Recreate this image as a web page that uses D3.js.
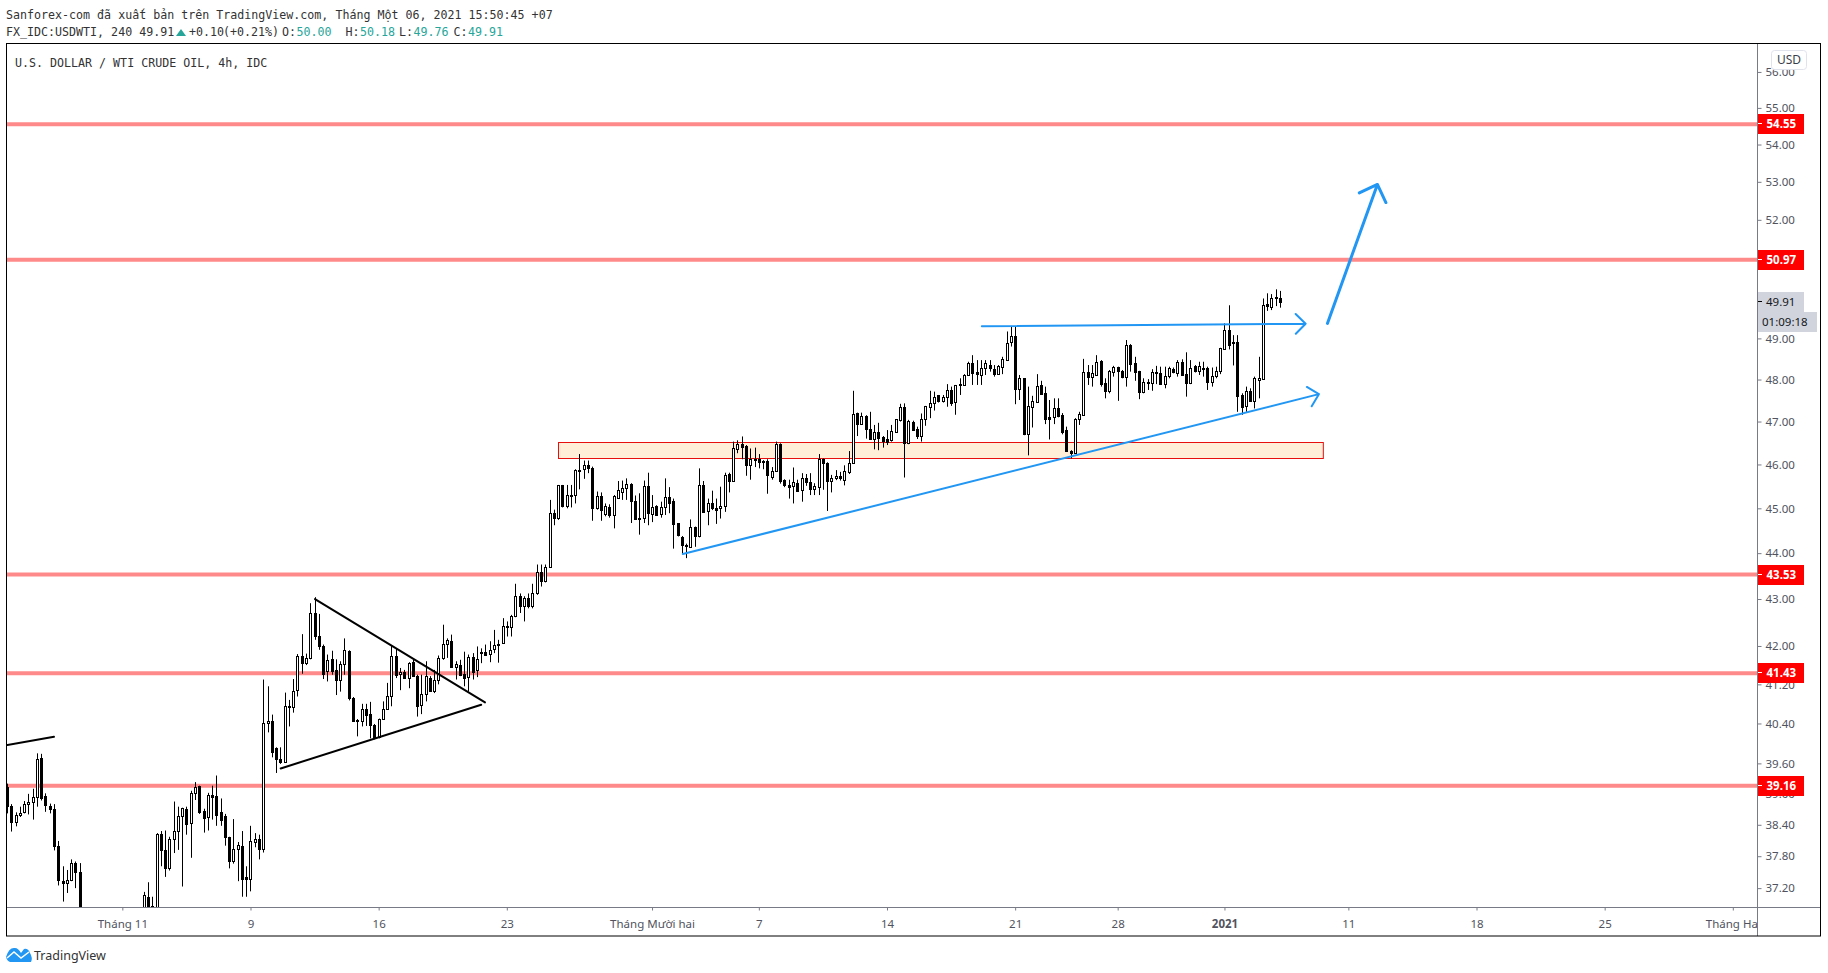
<!DOCTYPE html>
<html lang="en">
<head>
<meta charset="UTF-8">
<title>USDWTI 4h</title>
<script src="https://cdn.jsdelivr.net/npm/d3@7/dist/d3.min.js"></script>
<style>
  body { margin: 0; background: #fff; }
  svg { display: block; }
  .mono { font-family: "DejaVu Sans Mono", monospace; font-size: 11.65px; fill: #333; }
  .axis text { font-family: "Noto Sans", sans-serif; font-size: 11.5px; fill: #50535e; }
  .axis path, .axis line { stroke: #787b86; }
</style>
</head>
<body>
<svg></svg>
<script>
var opens = [
39.14,38.77,38.45,38.58,38.64,38.81,38.84,38.93,39.70,38.96,
38.77,38.71,38.00,37.33,37.29,37.36,37.67,37.50,null,null,
null,null,null,null,null,null,null,null,null,null,
null,null,36.80,37.03,36.87,36.80,38.23,37.91,37.58,38.13,
38.28,38.57,38.71,38.43,39.01,39.15,38.66,38.55,38.97,38.95,
38.64,38.56,38.16,37.70,37.93,37.99,37.40,37.38,38.07,38.12,
37.93,40.41,40.45,39.90,39.68,39.63,40.73,40.73,41.08,41.79,
41.65,41.74,42.70,42.21,42.01,41.47,41.72,41.49,41.28,41.63,
41.90,40.91,40.48,40.45,40.69,40.59,40.37,40.12,40.49,40.69,
40.96,41.80,41.41,41.46,41.34,41.66,41.38,40.77,41.00,41.34,
41.07,41.30,41.74,42.04,42.11,41.55,41.60,41.42,41.35,41.77,
41.49,41.85,41.88,41.83,41.93,42.02,42.06,42.41,42.40,42.63,
43.06,42.84,43.02,42.84,43.13,43.59,43.38,43.70,44.89,44.79,
45.52,45.05,45.28,45.31,45.85,45.89,45.98,45.91,45.01,45.27,
44.88,45.04,44.84,45.24,45.38,45.45,45.55,45.17,44.79,44.78,
45.50,44.88,45.06,44.88,45.04,45.25,45.17,44.66,44.35,44.18,
44.14,44.58,44.37,45.52,44.95,45.11,45.01,45.01,45.06,45.77,
45.63,46.36,46.47,46.43,45.98,46.10,46.13,46.07,46.08,45.72,
45.85,46.47,45.65,45.52,45.50,45.57,45.41,45.68,45.59,45.43,
45.48,46.12,46.04,45.63,45.68,45.73,45.65,45.83,46.04,47.20,
46.95,47.13,46.82,46.59,46.75,46.63,46.58,46.57,46.75,47.03,
47.34,46.50,46.99,46.82,46.66,47.05,47.35,47.44,47.62,47.49,
47.57,47.76,47.47,47.89,47.87,48.11,48.41,48.17,48.11,48.28,
48.36,48.25,48.13,48.31,48.47,48.90,49.06,47.78,48.03,46.71,
47.35,47.47,47.86,47.67,47.10,47.10,47.33,47.15,46.79,46.31,
46.26,47.05,47.16,48.17,48.05,48.12,48.44,47.91,47.73,48.19,
48.30,48.20,48.07,48.83,48.39,48.20,47.70,47.91,47.91,48.15,
48.15,47.89,48.08,48.25,48.15,48.42,48.13,47.91,48.33,48.21,
48.29,48.27,47.95,48.09,48.20,48.74,49.21,48.92,48.92,47.64,
47.37,47.73,47.49,48.00,48.01,49.84,49.77,50.00,50.00];

var highs = [
39.20,38.80,38.64,38.75,38.86,39.00,39.10,39.80,39.79,39.01,
38.81,38.80,38.09,37.61,37.54,37.74,37.70,37.67,null,null,
null,null,null,null,null,null,null,null,null,null,
null,null,37.13,37.31,37.04,38.24,38.28,38.29,38.17,38.85,
38.75,38.73,38.75,39.06,39.23,39.16,38.71,39.02,39.16,39.36,
38.91,38.61,38.17,38.51,38.07,38.28,37.61,38.38,38.24,38.21,
41.30,41.16,40.58,39.92,39.92,41.03,40.88,41.31,41.83,42.25,
41.84,42.91,43.04,42.68,42.03,41.82,41.90,41.72,41.68,42.16,
41.91,40.94,40.49,40.80,40.80,40.84,40.39,40.50,40.85,41.23,
42.00,41.95,41.54,41.50,41.66,41.71,41.40,41.40,41.68,41.37,
41.50,41.80,42.45,42.16,42.24,41.68,41.71,41.88,41.82,41.85,
41.99,41.95,42.03,42.10,42.34,42.13,42.59,42.52,42.66,43.33,
43.12,43.06,43.12,43.33,43.75,43.75,43.75,45.19,44.97,45.53,
45.53,45.53,45.53,45.89,46.24,46.09,46.09,45.95,45.38,45.36,
45.11,45.09,45.30,45.62,45.63,45.68,45.57,45.29,45.34,45.63,
45.81,45.30,45.07,45.15,45.68,45.48,45.22,44.67,44.38,44.21,
44.75,44.59,45.91,45.62,45.22,45.40,45.22,45.49,45.81,45.81,
46.53,46.56,46.65,46.45,46.37,46.39,46.24,46.10,46.12,45.94,
46.53,46.49,45.66,45.65,45.93,45.65,45.80,45.78,45.80,45.57,
46.24,46.14,46.05,45.76,45.87,45.83,45.98,46.31,47.73,47.21,
47.21,47.15,47.23,46.92,46.97,46.66,46.80,46.92,47.05,47.42,
47.43,47.04,47.02,46.88,47.19,47.37,47.73,47.71,47.63,47.63,
47.89,47.83,47.87,48.03,48.13,48.43,48.59,48.47,48.47,48.47,
48.47,48.35,48.35,48.55,49.17,49.29,49.29,48.11,48.03,47.83,
47.61,48.13,47.97,47.83,47.51,47.55,47.55,47.20,46.88,46.33,
47.08,47.23,48.50,48.35,48.35,48.59,48.47,48.03,48.23,48.33,
48.31,48.23,48.96,48.86,48.55,48.21,48.03,48.01,48.25,48.33,
48.31,48.31,48.31,48.29,48.47,48.49,48.66,48.47,48.35,48.43,
48.43,48.31,48.29,48.31,48.77,49.37,49.82,49.08,49.08,47.67,
47.83,47.79,48.07,48.55,49.99,50.12,50.10,50.22,50.18];

var lows = [
38.62,38.27,38.37,38.55,38.62,38.60,38.50,38.75,38.87,38.65,
38.62,37.91,37.25,36.95,37.11,37.33,37.20,36.50,null,null,
null,null,null,null,null,null,null,null,null,null,
null,null,36.70,36.70,36.60,36.70,37.61,37.41,37.53,37.86,
37.92,37.23,38.21,37.77,38.88,38.61,38.25,38.29,38.50,38.38,
38.38,38.00,37.57,37.66,37.33,37.04,37.04,37.14,37.97,37.74,
37.87,40.22,39.72,39.41,39.59,39.62,40.34,40.62,40.95,41.42,
41.60,41.72,42.13,41.92,41.31,41.26,41.40,40.98,41.05,41.40,
40.87,40.44,40.14,40.34,40.35,40.10,40.08,40.10,40.48,40.68,
40.75,41.33,41.08,41.32,41.12,41.37,40.54,40.59,40.85,41.05,
41.02,41.20,41.71,41.75,41.56,41.30,41.37,41.16,41.05,41.30,
41.35,41.64,41.79,41.66,41.85,41.65,42.05,42.20,42.20,42.61,
42.70,42.52,42.80,42.80,43.09,43.27,43.36,43.69,44.62,44.74,
45.02,45.00,45.02,45.11,45.43,45.67,45.80,44.72,44.97,44.72,
44.82,44.79,44.55,45.22,45.19,45.19,44.67,44.75,44.41,44.67,
44.62,44.69,44.85,44.79,44.85,44.89,44.10,44.37,43.98,43.89,
44.13,44.14,44.35,44.90,44.62,44.96,44.65,44.77,44.92,45.36,
45.61,46.26,46.12,45.74,45.65,45.94,45.91,45.89,45.33,45.65,
45.84,45.56,45.48,45.22,45.11,45.38,45.15,45.51,45.30,45.30,
45.30,45.42,44.94,45.36,45.64,45.63,45.52,45.78,46.03,46.66,
46.94,46.60,46.57,46.35,46.33,46.39,46.45,46.53,46.74,47.00,
45.70,46.47,46.78,46.59,46.53,46.90,47.08,47.26,47.45,47.45,
47.35,47.37,47.16,47.63,47.85,48.09,47.87,47.87,47.87,48.11,
48.19,48.07,48.11,48.13,48.45,48.80,47.41,47.51,46.68,46.21,
46.86,47.45,47.63,46.94,46.58,46.94,47.10,46.70,46.29,46.14,
46.25,46.92,47.14,47.87,47.83,48.11,47.83,47.55,47.67,48.07,
47.49,48.03,47.83,48.19,47.97,47.53,47.67,47.75,47.73,47.89,
47.87,47.79,48.03,48.15,48.07,48.09,47.59,47.89,48.17,48.11,
48.07,47.75,47.83,48.03,48.13,48.73,48.73,48.34,47.23,47.16,
47.23,47.47,47.31,47.55,48.01,49.68,49.70,49.80,49.76];

var closes = [
38.77,38.45,38.59,38.63,38.81,38.84,38.93,39.68,38.91,38.79,
38.71,38.00,37.36,37.29,37.35,37.67,37.50,36.60,null,null,
null,null,null,null,null,null,null,null,null,null,
null,null,37.07,36.80,36.70,38.23,37.91,37.57,38.12,38.28,
38.57,38.72,38.42,39.02,39.13,38.65,38.54,38.97,38.94,38.59,
38.50,38.16,37.70,37.93,38.01,37.37,37.37,38.08,38.12,37.93,
40.41,40.45,39.82,39.68,39.63,40.76,40.76,41.07,41.79,41.65,
41.74,42.70,42.21,42.01,41.41,41.70,41.48,41.28,41.62,41.91,
40.91,40.46,40.45,40.69,40.58,40.36,40.10,40.49,40.69,40.96,
41.79,41.40,41.46,41.34,41.65,41.38,40.76,41.00,41.37,41.07,
41.30,41.75,42.04,42.12,41.57,41.63,41.39,41.34,41.77,41.45,
41.72,41.88,41.82,41.91,42.03,42.05,42.42,42.43,42.64,43.06,
42.84,43.02,42.84,43.12,43.59,43.38,43.70,44.89,44.79,45.52,
45.05,45.31,45.31,45.87,45.87,45.98,45.91,45.01,45.27,44.97,
45.06,44.84,45.27,45.41,45.45,45.55,45.17,44.77,44.77,45.50,
44.89,45.04,44.86,45.04,45.25,45.13,44.65,44.40,44.18,44.15,
44.58,44.37,45.52,44.92,45.11,45.00,44.97,45.06,45.75,45.63,
46.37,46.47,46.41,45.99,46.12,46.13,46.05,46.05,45.75,45.85,
46.47,45.61,45.52,45.49,45.59,45.40,45.68,45.59,45.43,45.50,
46.12,46.03,45.63,45.69,45.73,45.68,45.84,46.03,47.18,46.95,
47.13,46.82,46.59,46.75,46.61,46.54,46.53,46.77,47.05,47.34,
46.50,47.02,46.80,46.66,47.05,47.36,47.45,47.57,47.49,47.57,
47.76,47.45,47.86,47.86,48.11,48.41,48.15,48.13,48.29,48.39,
48.27,48.13,48.32,48.49,48.88,49.06,47.78,48.03,46.70,47.36,
47.48,47.84,47.65,47.07,47.07,47.33,47.13,46.76,46.31,46.26,
47.06,47.17,48.17,48.05,48.15,48.43,47.90,47.73,48.20,48.30,
48.20,48.05,48.83,48.38,48.19,47.69,47.94,47.94,48.18,48.18,
47.89,48.08,48.27,48.17,48.42,48.12,47.91,48.29,48.21,48.32,
48.27,47.95,48.09,48.20,48.76,49.21,48.85,48.88,47.61,47.35,
47.72,47.49,48.04,48.03,49.82,49.80,50.00,50.02,49.91];

var priceTicks = [56,55,54,53,52,49,48,47,46,45,44,43,42,41.2,40.4,39.6,39,38.4,37.8,37.2];
var levels = [54.55,50.97,43.53,41.43,39.16];
var lastPrice = 49.91;

var timeTickBars = [27,57,87,117,151,176,206,236,260,285,314,344,374,404];
var timeTickLabels = ['Tháng 11','9','16','23','Tháng Mười hai','7','14','21','28','2021','11','18','25','Tháng Hai'];

// drawings, as [bar, price] pairs
var zoneBars = [129.06,308.1];
var zonePrices = [46.53,46.15];
var blackLines = [
	[[-0.25,39.96],[11,40.13]],
	[[72.1,43.0],[111.9,40.83]],
	[[64.07,39.5],[111,40.78]]
];
var blueArrows = [
	{from:[158.2,43.98], to:[307.1,47.65], width:2, head:14},
	{from:[228.2,49.3], to:[304,49.36], width:2, head:14},
	{from:[309.1,49.37], to:[320.8,52.93], width:3, head:20}
];

var width = 1828, height = 973;
var plot = {left:6, right:1757, top:44, bottom:907, frameRight:1821, frameBottom:936};

var svg = d3.select('svg').attr('width', width).attr('height', height);

var x = d3.scaleLinear().domain([0,298]).range([7,1280]);
var y = d3.scaleLog().domain([36.85,56.79]).range([plot.bottom,plot.top]);

svg.append('clipPath').attr('id','plotClip').append('rect')
	.attr('x',plot.left).attr('y',plot.top)
	.attr('width',plot.right-plot.left).attr('height',plot.bottom-plot.top);
svg.append('clipPath').attr('id','timeClip').append('rect')
	.attr('x',plot.left).attr('y',plot.bottom)
	.attr('width',plot.right-plot.left).attr('height',plot.frameBottom-plot.bottom);

var main = svg.append('g').attr('clip-path','url(#plotClip)');

// support zone
main.append('rect')
	.attr('x',Math.round(x(zoneBars[0]))+0.5)
	.attr('y',Math.round(y(zonePrices[0]))+0.5)
	.attr('width',x(zoneBars[1])-x(zoneBars[0]))
	.attr('height',Math.round(y(zonePrices[1])-y(zonePrices[0])))
	.attr('fill','#ffefd9')
	.attr('stroke','#e6100f');

// horizontal levels
main.selectAll('.level').data(levels).enter().append('line')
	.attr('class','level')
	.attr('x1',plot.left).attr('x2',plot.right)
	.attr('y1',function(d){return y(d);}).attr('y2',function(d){return y(d);})
	.attr('stroke','#ff8a8a').attr('stroke-width',4);

// candles
var bars = d3.range(opens.length).filter(function(i){return opens[i]!==null;});
var candle = main.selectAll('.candle').data(bars).enter().append('g').attr('class','candle');

candle.append('line')
	.attr('x1',function(i){return Math.round(x(i))+0.5;})
	.attr('x2',function(i){return Math.round(x(i))+0.5;})
	.attr('y1',function(i){return y(highs[i]);})
	.attr('y2',function(i){return y(lows[i]);})
	.attr('stroke','#000');

candle.append('rect')
	.attr('x',function(i){return Math.round(x(i))-0.5;})
	.attr('width',2)
	.attr('y',function(i){return Math.round(y(Math.max(opens[i],closes[i])))+0.5;})
	.attr('height',function(i){
		var t = Math.round(y(Math.max(opens[i],closes[i])));
		var b = Math.round(y(Math.min(opens[i],closes[i])));
		return Math.max(b-t,1);
	})
	.attr('fill',function(i){return closes[i]>=opens[i] ? '#fff' : '#000';})
	.attr('stroke','#000');

// trend lines
main.selectAll('.blackLine').data(blackLines).enter().append('line')
	.attr('class','blackLine')
	.attr('x1',function(d){return x(d[0][0]);})
	.attr('y1',function(d){return y(d[0][1]);})
	.attr('x2',function(d){return x(d[1][0]);})
	.attr('y2',function(d){return y(d[1][1]);})
	.attr('stroke','#000').attr('stroke-width',2).attr('stroke-linecap','round');

// arrows, head arms at 45 degrees from the shaft
blueArrows.forEach(function(a){
	var x0 = x(a.from[0]), y0 = y(a.from[1]);
	var x1 = x(a.to[0]), y1 = y(a.to[1]);
	var ang = Math.atan2(y1-y0,x1-x0);
	var d = 'M'+x0+','+y0+'L'+x1+','+y1;
	[-Math.PI/4,Math.PI/4].forEach(function(off){
		d += 'M'+x1+','+y1+'L'+(x1-a.head*Math.cos(ang+off))+','+(y1-a.head*Math.sin(ang+off));
	});
	main.append('path').attr('d',d)
		.attr('fill','none').attr('stroke','#2196f3')
		.attr('stroke-width',a.width).attr('stroke-linecap','round');
});

// axes
var timeAxis = svg.append('g').attr('clip-path','url(#timeClip)').append('g').attr('class','axis')
	.attr('transform','translate(0,'+(plot.bottom+0.5)+')')
	.call(d3.axisBottom(x).tickValues(timeTickBars).tickSizeOuter(0).tickSize(3)
		.tickFormat(function(d,i){return timeTickLabels[i];}));
timeAxis.select('.domain').remove();
timeAxis.selectAll('text').attr('dy',0).attr('y',20)
	.style('font-weight',function(d,i){return timeTickLabels[i]==='2021' ? 'bold' : 'normal';});
svg.append('line').attr('x1',plot.left).attr('x2',plot.frameRight)
	.attr('y1',plot.bottom+0.5).attr('y2',plot.bottom+0.5).attr('stroke','#787b86');

var priceAxis = svg.append('g').attr('class','axis')
	.attr('transform','translate('+(plot.right+0.5)+',0)')
	.call(d3.axisRight(y).tickValues(priceTicks).tickSize(4).tickPadding(4)
		.tickFormat(d3.format('.2f')));
priceAxis.select('.domain').remove();
svg.append('line').attr('x1',plot.right+0.5).attr('x2',plot.right+0.5)
	.attr('y1',plot.top).attr('y2',plot.frameBottom).attr('stroke','#787b86');

// frame
svg.append('rect').attr('x',plot.left+0.5).attr('y',plot.top-0.5)
	.attr('width',plot.frameRight-plot.left-1).attr('height',plot.frameBottom-plot.top+0.5)
	.attr('fill','none').attr('stroke','#000');

// level labels
var lab = svg.selectAll('.levelLabel').data(levels).enter().append('g').attr('class','levelLabel')
	.attr('transform',function(d){return 'translate('+(plot.right+1)+','+Math.round(y(d))+')';});
lab.append('rect').attr('x',0).attr('y',-10).attr('width',46).attr('height',20).attr('fill','#f00');
lab.append('line').attr('x1',0).attr('x2',4).attr('y1',-0.5).attr('y2',-0.5).attr('stroke','#fff');
lab.append('text').attr('x',8.5).attr('y',4)
	.attr('font-family','"Noto Sans", sans-serif').attr('font-size','11.5px').attr('font-weight','bold')
	.attr('fill','#fff').text(function(d){return d.toFixed(2);});

// last price and countdown
var lastY = Math.round(y(lastPrice));
svg.append('rect').attr('x',plot.right+1).attr('y',lastY-10).attr('width',46).attr('height',20).attr('fill','#d1d4dc');
svg.append('line').attr('x1',plot.right+1).attr('x2',plot.right+5)
	.attr('y1',lastY-0.5).attr('y2',lastY-0.5).attr('stroke','#000');
svg.append('text').attr('x',plot.right+9).attr('y',lastY+4)
	.attr('font-family','"Noto Sans", sans-serif').attr('font-size','11.5px').attr('fill','#131722').text(lastPrice.toFixed(2));
svg.append('rect').attr('x',plot.right+1).attr('y',lastY+10).attr('width',59).attr('height',20).attr('fill','#d1d4dc');
svg.append('text').attr('x',plot.right+5).attr('y',lastY+24)
	.attr('font-family','"Noto Sans", sans-serif').attr('font-size','11.5px').attr('fill','#131722').text('01:09:18');

// currency button
svg.append('rect').attr('x',1771.5).attr('y',50.5).attr('width',35).attr('height',19).attr('rx',3)
	.attr('fill','#fff').attr('stroke','#e0e3eb');
svg.append('text').attr('x',1789).attr('y',63.5).attr('text-anchor','middle')
	.attr('font-family','"Noto Sans", sans-serif').attr('font-size','12px').attr('fill','#3a3e4a').text('USD');

// header text
svg.append('text').attr('class','mono').attr('x',6).attr('y',19)
	.text('Sanforex-com đã xuất bản trên TradingView.com, Tháng Một 06, 2021 15:50:45 +07');
svg.append('text').attr('class','mono').attr('x',6).attr('y',35.5).text('FX_IDC:USDWTI, 240 49.91');
svg.append('path').attr('d','M176,36L181,29L186,36Z').attr('fill','#26a69a');
svg.append('text').attr('class','mono').attr('x',189).attr('y',35.5).text('+0.10');
svg.append('text').attr('class','mono').attr('x',223).attr('y',35.5).text('(+0.21%)');
var ohlcLabels = ['O:','H:','L:','C:'];
var ohlcValues = ['50.00','50.18','49.76','49.91'];
var ohlcX = [282,345.5,399,453.5];
ohlcLabels.forEach(function(l,i){
	svg.append('text').attr('class','mono').attr('x',ohlcX[i]).attr('y',35.5).text(l);
	svg.append('text').attr('class','mono').attr('x',ohlcX[i]+14.5).attr('y',35.5)
		.style('fill','#26a69a').text(ohlcValues[i]);
});
svg.append('text').attr('class','mono').attr('x',15).attr('y',67).text('U.S. DOLLAR / WTI CRUDE OIL, 4h, IDC');

// logo
svg.append('path')
	.attr('d','M6,957Q9,947 15,948Q18,948 21,953L24,949Q28,948 30,953Q33,958 31,962L10,962Q7,961 6,957Z')
	.attr('fill','#2196f3');
svg.append('path').attr('d','M7,958L14,952L21,958L29,952').attr('fill','none').attr('stroke','#fff').attr('stroke-width',1.5);
svg.append('text').attr('x',34).attr('y',960)
	.attr('font-family','"Noto Sans", sans-serif').attr('font-size','12.5px').attr('fill','#333').text('TradingView');
</script>
</body>
</html>
